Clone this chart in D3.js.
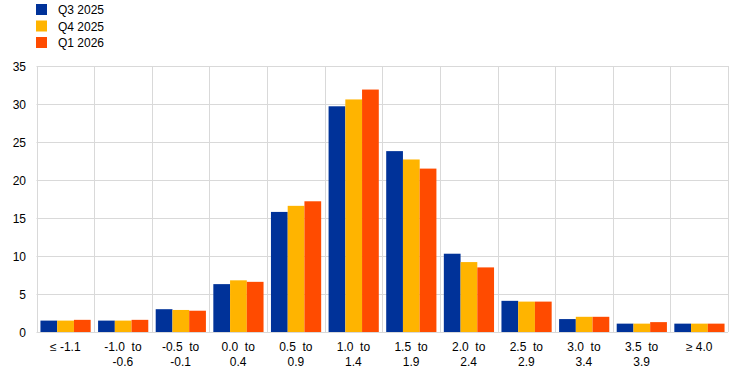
<!DOCTYPE html>
<html>
<head>
<meta charset="utf-8">
<script src="https://cdn.jsdelivr.net/npm/d3@7"></script>
<style>
  body { margin: 0; background: #fff; }
  svg text { font-family: "Liberation Sans", Arial, sans-serif; fill: #000; }
</style>
</head>
<body>
<svg id="chart" width="744" height="373"></svg>
<script>
var categories = [
    ["≤ -1.1"], ["-1.0  to", "-0.6"], ["-0.5  to", "-0.1"], ["0.0  to", "0.4"],
    ["0.5  to", "0.9"], ["1.0  to", "1.4"], ["1.5  to", "1.9"], ["2.0  to", "2.4"],
    ["2.5  to", "2.9"], ["3.0  to", "3.4"], ["3.5  to", "3.9"], ["≥ 4.0"]
];
var seriesNames = ["Q3 2025", "Q4 2025", "Q1 2026"];
var q3_2025 = [1.5, 1.5, 3.0, 6.3, 15.8, 29.7, 23.8, 10.3, 4.1, 1.7, 1.1, 1.1];
var q4_2025 = [1.5, 1.5, 2.9, 6.8, 16.6, 30.6, 22.7, 9.2, 4.0, 2.0, 1.1, 1.1];
var q1_2026 = [1.6, 1.6, 2.8, 6.6, 17.2, 31.9, 21.5, 8.5, 4.0, 2.0, 1.3, 1.1];
var yTicks = [0, 5, 10, 15, 20, 25, 30, 35];
var colors = ["#003299", "#ffb400", "#ff4b00"];

var series = [q3_2025, q4_2025, q1_2026];

var svg = d3.select("#chart");
var margin = {left: 36.5, right: 16, top: 66, bottom: 41};
var W = 744, H = 373;

var x = d3.scaleBand()
    .domain(d3.range(categories.length))
    .range([margin.left, W - margin.right])
    .paddingInner(0)
    .paddingOuter(0);
var inner = 0.12;
var xs = d3.scaleBand()
    .domain(d3.range(series.length))
    .range([x.bandwidth() * inner / 2 + 0.5, x.bandwidth() * (1 - inner / 2)]);
var y = d3.scaleLinear().domain([0, 35]).range([H - margin.bottom, margin.top]);

// grid
var grid = svg.append("g");
grid.selectAll("line.h").data(yTicks).enter().append("line")
    .attr("x1", margin.left).attr("x2", W - margin.right)
    .attr("y1", d => Math.round(y(d)) + 0.5).attr("y2", d => Math.round(y(d)) + 0.5)
    .attr("stroke", "#d9d9d9").attr("stroke-width", 1);
grid.selectAll("line.v").data(d3.range(categories.length + 1)).enter().append("line")
    .attr("x1", d => Math.round(margin.left + d * x.bandwidth()) + 0.5)
    .attr("x2", d => Math.round(margin.left + d * x.bandwidth()) + 0.5)
    .attr("y1", y(35)).attr("y2", y(0))
    .attr("stroke", "#d9d9d9").attr("stroke-width", 1);

// bars
series.forEach(function(vals, si) {
    svg.append("g").selectAll("rect").data(vals).enter().append("rect")
        .attr("x", (d, i) => x(i) + xs(si))
        .attr("width", xs.bandwidth())
        .attr("y", d => y(d))
        .attr("height", d => y(0) - y(d))
        .attr("fill", colors[si]);
});

// y axis labels
svg.append("g").selectAll("text").data(yTicks).enter().append("text")
    .attr("x", 26).attr("y", d => y(d) + 4.5)
    .attr("text-anchor", "end").attr("font-size", 12)
    .text(d => d);

// x axis labels
var xl = svg.append("g").selectAll("text").data(categories).enter().append("text")
    .attr("text-anchor", "middle").attr("font-size", 12)
    .attr("transform", (d, i) => "translate(" + (x(i) + x.bandwidth() / 2) + ",0)");
xl.selectAll("tspan").data(d => d).enter().append("tspan")
    .attr("x", 0).attr("y", (d, j) => 351 + j * 15)
    .attr("xml:space", "preserve")
    .style("white-space", "pre")
    .text(d => d);

// legend
var leg = svg.append("g").selectAll("g").data(seriesNames).enter().append("g")
    .attr("transform", (d, i) => "translate(36," + (4 + i * 16.5) + ")");
leg.append("rect").attr("width", 11).attr("height", 11).attr("fill", (d, i) => colors[i]);
leg.append("text").attr("x", 22).attr("y", 10).attr("font-size", 12).text(d => d);
</script>
</body>
</html>
